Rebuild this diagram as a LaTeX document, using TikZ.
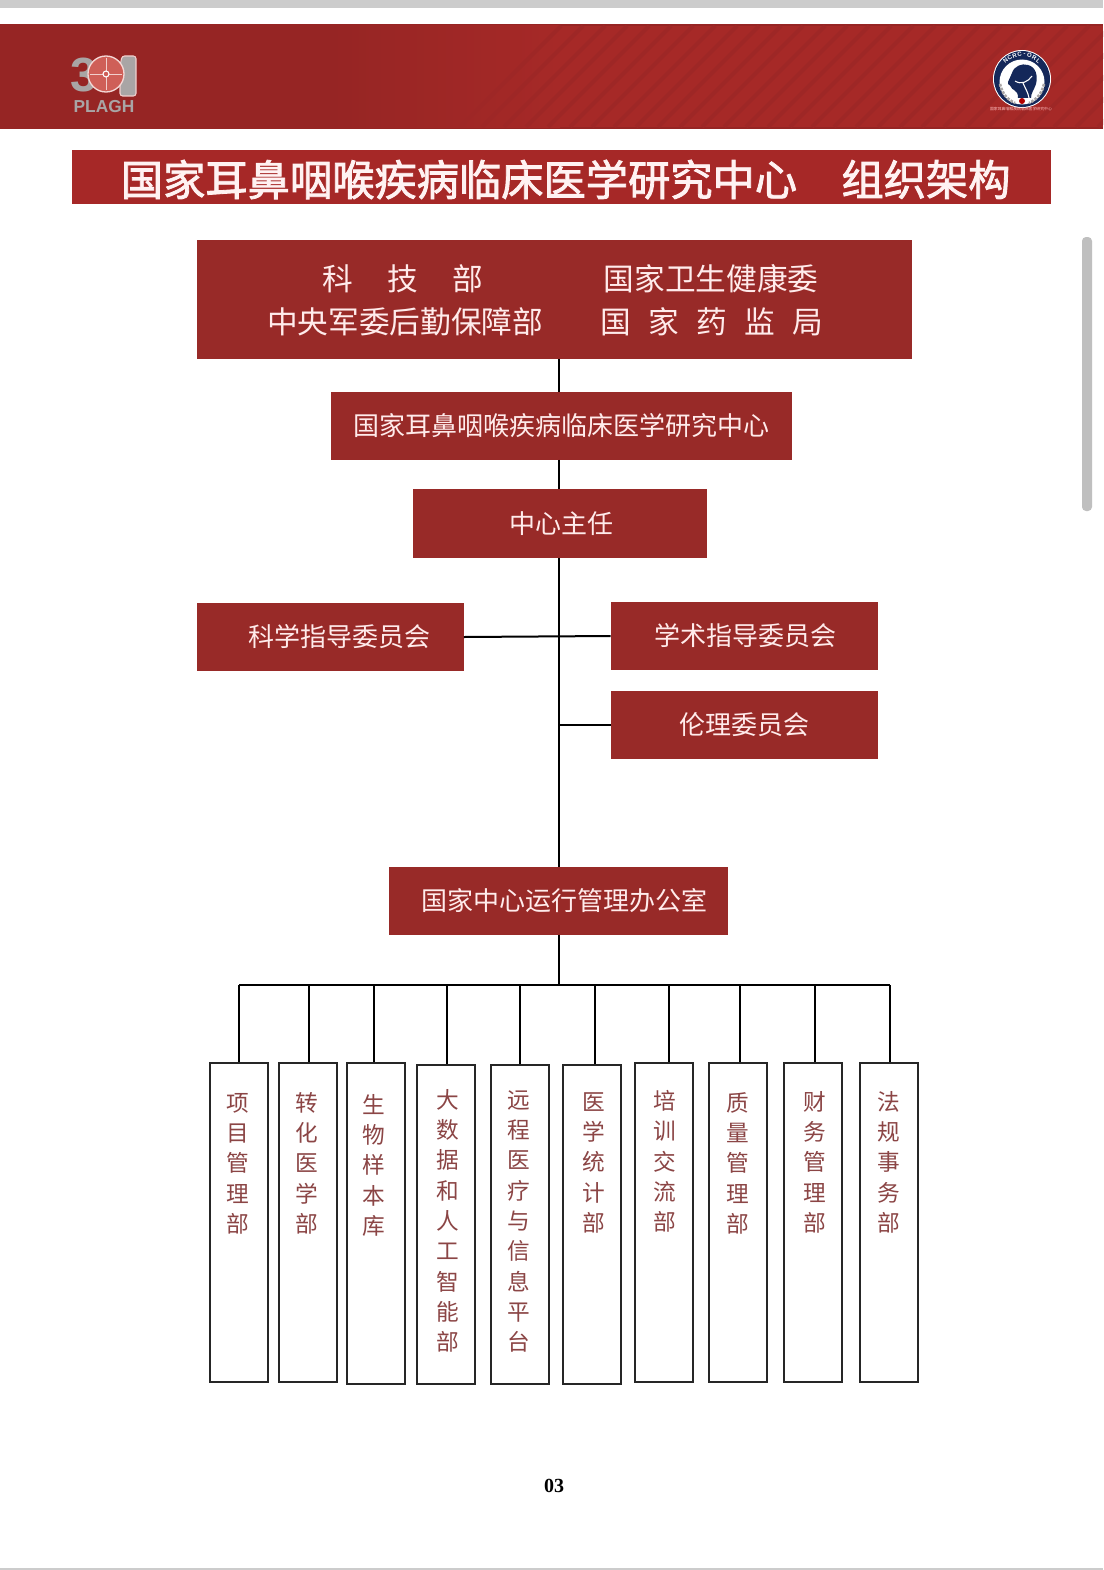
\documentclass[tikz,border=0pt]{standalone}
\usepackage{fontspec}
\setmainfont{Noto Sans CJK SC}
\newfontfamily\titlefont[FakeBold=2]{Noto Sans CJK SC}
\newfontfamily\pagefont{Liberation Serif}
\newfontfamily\logofont{Liberation Sans}
\usetikzlibrary{positioning, calc}
\definecolor{bandred}{HTML}{962524}
\definecolor{bandlight}{HTML}{A62927}
\definecolor{bandstripe}{HTML}{9E2726}
\definecolor{boxred}{HTML}{982A28}
\definecolor{titlered}{HTML}{A62827}
\definecolor{deptred}{HTML}{8B4545}
\definecolor{logonavy}{HTML}{14285A}
\definecolor{logogray}{HTML}{A9A5A5}
\definecolor{logopink}{HTML}{CF5F58}
\tikzset{
    redbox/.style={fill=boxred, text=white!92!red, inner sep=0pt, outer sep=0pt, font=\fontsize{19.5}{24}\selectfont},
    toptext/.style={text=white!92!red, inner sep=0pt, font=\fontsize{23}{26}\selectfont},
    titletext/.style={text=white!95!red, inner sep=0pt, font=\titlefont\fontsize{31.7}{36}\selectfont},
    deptbox/.style={draw=black!85, line width=1.5pt, fill=white, minimum width=43.5pt, inner sep=0pt},
    depttext/.style={text=deptred, anchor=north, align=center, inner sep=0pt, font=\fontsize{17}{22.75}\selectfont},
    link/.style={line width=1.5pt, black}
}
\begin{document}
\begin{tikzpicture}[x=0.75pt, y=-0.75pt]
    \useasboundingbox (0, 0) rectangle (1103, 1570);
    \fill[white] (0, 0) rectangle (1103, 1570);
    \fill[black!20] (0, 0) rectangle (1103, 8);
    \fill[black!20] (0, 1568) rectangle (1103, 1570);
    \fill[black!25, rounded corners=3pt] (1082, 237) rectangle (1092, 511);

    % header band
    \fill[bandred] (0, 24) rectangle (1103, 129);
    \begin{scope}
        \clip (330, 26) rectangle (1103, 127);
        \fill[left color=bandred, right color=bandlight] (330, 26) rectangle (560, 127);
        \fill[bandlight] (560, 26) rectangle (1103, 127);
        \foreach \i in {0, 22, ..., 660} {
            \draw[bandstripe, line width=3pt] (460 + \i, 127) -- (561 + \i, 26);
        }
    \end{scope}

    % left logo
    \fill[logogray, draw=white!70!logopink, line width=0.8pt, rounded corners=2pt] (122, 56) -- (136, 56) -- (136, 96) -- (120, 96) -- (120, 66) -- cycle;
    \node[text=logogray, inner sep=0pt, font=\logofont\fontsize{36}{36}\bfseries\selectfont] (three) at (84, 75) {3};
    \fill[logopink, draw=white!75!logopink, line width=1pt] (106, 74) circle (18);
    \draw[white!70!logopink, line width=0.6pt] (90, 74) -- (122, 74) (106, 58) -- (106, 90);
    \draw[white, fill=logopink, line width=0.8pt] (106, 74) circle (3);
    \node[text=logogray, inner sep=0pt, font=\logofont\fontsize{13}{14}\bfseries\selectfont] (plagh) at (104, 107) {PLAGH};

    % right logo
    \fill[white] (1022, 79) circle (29);
    \fill[logonavy] (1022, 79) circle (28);
    \fill[white] (1022, 82) circle (22.5);
    \draw[logogray, line width=2pt, dash pattern=on 2pt off 1pt] (1000, 84) .. controls (1002, 94) and (1008, 100) .. (1015, 103);
    \draw[logogray, line width=2pt, dash pattern=on 2pt off 1pt] (1044, 84) .. controls (1042, 94) and (1036, 100) .. (1029, 103);
    \fill[logonavy] (1008, 82) -- (1012, 73) .. controls (1014, 66) and (1022, 63) .. (1028, 65)
        .. controls (1036, 67) and (1038, 76) .. (1036, 84)
        .. controls (1034, 90) and (1031, 93) .. (1031, 98) -- (1018, 98)
        .. controls (1018, 94) and (1017, 91) .. (1014, 90)
        .. controls (1011, 89) and (1011, 85) .. (1008, 84) -- cycle;
    \draw[white, line width=0.8pt] (1015, 81) .. controls (1021, 85) and (1028, 82) .. (1032, 76)
        (1023, 83) .. controls (1025, 88) and (1028, 92) .. (1029, 98);
    \fill[red!70!black] (1022, 101) circle (3);
    \foreach \c [count=\i] in {N,C,R,C,-,O,R,L} {
        \node[text=white, inner sep=0pt, rotate={(4.5 - \i) * 12}, font=\logofont\fontsize{4.5}{5}\bfseries\selectfont] (ncrc\i) at ({1022 + 24.5 * sin((\i - 4.5) * 12)}, {79 - 24.5 * cos((\i - 4.5) * 12)}) {\c};
    }
    \node[text=white!75!red, inner sep=0pt, font=\fontsize{2.9}{3}\selectfont] (ncrcname) at (1021, 109) {国家耳鼻咽喉疾病临床医学研究中心};

    % title
    \fill[titlered] (72, 150) rectangle (1050.5, 204);
    \node[titletext] (title) at (459, 179.5) {国家耳鼻咽喉疾病临床医学研究中心};
    \node[titletext] (titleb) at (926, 179.5) {组织架构};

    % upper boxes
    \node[redbox, minimum width=536.5pt, minimum height=89.5pt] (top) at (554.3, 299.5) {};
    \node[toptext] (most) at (403, 278.5) {科\hspace{26pt}技\hspace{26pt}部};
    \node[toptext] (nhc) at (711, 278.5) {国家卫生健康委};
    \node[toptext] (cmc) at (405, 321.5) {中央军委后勤保障部};
    \node[toptext] (nmpa) at (712, 321.5) {国\hspace{13pt}家\hspace{13pt}药\hspace{13pt}监\hspace{13pt}局};
    \node[redbox, minimum width=346.2pt, minimum height=51pt] (center) at (561.3, 425.5) {国家耳鼻咽喉疾病临床医学研究中心};
    \node[redbox, minimum width=220.5pt, minimum height=51.5pt] (director) at (560, 523.5) {\hspace{2pt}中心主任};
    \node[redbox, minimum width=200.5pt, minimum height=50.5pt] (science) at (330.3, 637) {\hspace{14pt}科学指导委员会};
    \node[redbox, minimum width=200.5pt, minimum height=50.5pt] (academic) at (744.3, 636) {\hspace{2pt}学术指导委员会};
    \node[redbox, minimum width=200.5pt, minimum height=50.5pt] (ethics) at (744.3, 725) {\hspace{1pt}伦理委员会};
    \node[redbox, minimum width=254pt, minimum height=50.5pt] (office) at (558.5, 901) {\hspace{9pt}国家中心运行管理办公室};

    \coordinate (trunk) at (558.5, 985);
    \draw[link] (top.south -| trunk) -- (center.north -| trunk);
    \draw[link] (center.south -| trunk) -- (director.north -| trunk);
    \draw[link] (director.south -| trunk) -- (office.north -| trunk);
    \draw[link] (office.south -| trunk) -- (trunk);
    \draw[link] (science.east) -- (academic.west);
    \draw[link] (ethics.west) -- (ethics.west -| trunk);

    % departments: box centre x, box centre y, height, stem x, text x, text top, text
    \foreach \n/\bx/\by/\bh/\sx/\tx/\ty/\lbl in {
        a/239/1222/319/239/238/1093/{项\\目\\管\\理\\部},
        b/308/1222/319/309/306.5/1092/{转\\化\\医\\学\\部},
        c/376/1223/321/373.5/373.5/1094/{生\\物\\样\\本\\库},
        d/446/1224/319/447/447.5/1089/{大\\数\\据\\和\\人\\工\\智\\能\\部},
        e/520/1224/319/519.5/519/1090/{远\\程\\医\\疗\\与\\信\\息\\平\\台},
        f/592/1224/319/594.5/594/1092/{医\\学\\统\\计\\部},
        g/664/1222/319/668.5/665/1090/{培\\训\\交\\流\\部},
        h/738/1222/319/739.5/738/1092/{质\\量\\管\\理\\部},
        i/813.3/1222/319/814.5/815/1091/{财\\务\\管\\理\\部},
        j/889.3/1222/319/890/889/1091/{法\\规\\事\\务\\部}} {
        \node[deptbox, minimum height=\bh*0.75pt] (dept\n) at (\bx, \by) {};
        \node[depttext] (label\n) at (\tx, \ty) {\lbl};
        \coordinate (stem\n) at (\sx, 985);
        \draw[link] (stem\n) -- (stem\n |- dept\n.north);
    }
    \draw[link, line cap=square] (stema) -- (stemj);

    \node[inner sep=0pt, font=\pagefont\fontsize{15}{18}\bfseries\selectfont] (pagenum) at (554, 1486) {03};
\end{tikzpicture}
\end{document}
